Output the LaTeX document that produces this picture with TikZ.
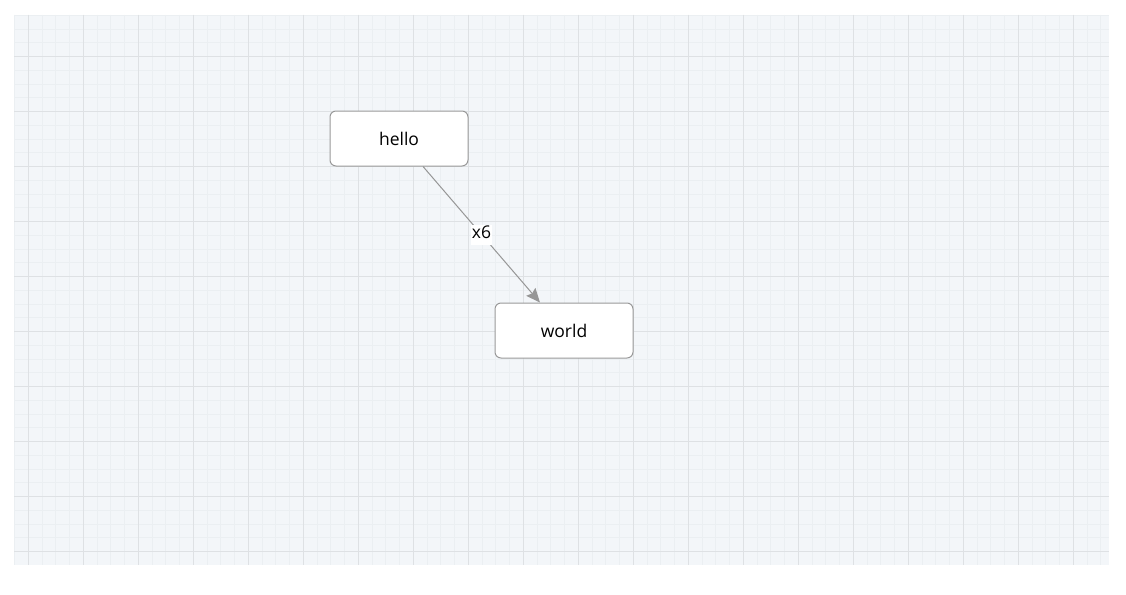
\documentclass[tikz,border=0pt]{standalone}
\usepackage{fontspec}
\setmainfont{Open Sans}
\usetikzlibrary{arrows.meta}
\definecolor{gridbg}{RGB}{243,246,249}
\definecolor{gridminor}{RGB}{235,239,242}
\definecolor{gridmajor}{RGB}{222,225,228}
\definecolor{boxborder}{RGB}{153,153,153}
\definecolor{edgecol}{RGB}{150,150,150}
\tikzset{
  boxnode/.style={draw=boxborder, line width=1pt, fill=white, rounded corners=6pt,
    minimum width=138pt, minimum height=55pt, inner sep=0pt,
    font=\fontsize{17.5}{21}\selectfont, text=black},
  edge/.style={draw=edgecol, line width=1pt, -{Stealth[length=14pt,width=12pt,inset=2pt]}},
  edgelabel/.style={fill=white, inner xsep=1pt, inner ysep=0pt, text height=14pt, text depth=6pt,
    font=\fontsize{17.5}{21}\selectfont, text=black},
  minorline/.style={draw=gridminor, line width=1pt},
  majorline/.style={draw=gridmajor, line width=1pt}
}
\begin{document}
\begin{tikzpicture}[x=1pt,y=-1pt]
\useasboundingbox (0,0) rectangle (1126,594);
\fill[white] (0,0) rectangle (1126,594);
\fill[gridbg] (14,15) rectangle (1109,564.5);
\begin{scope}
\clip (14,15) rectangle (1109,564.5);
\foreach \i in {-1,...,78} {
  \draw[minorline] ({28.3+13.75*\i},15) -- ({28.3+13.75*\i},564.5);
}
\foreach \j in {-3,...,37} {
  \draw[minorline] (14,{56.7+13.75*\j}) -- (1109,{56.7+13.75*\j});
}
\foreach \i in {0,...,19} {
  \draw[majorline] ({28.3+55*\i},15) -- ({28.3+55*\i},564.5);
}
\foreach \j in {0,...,9} {
  \draw[majorline] (14,{56.7+55*\j}) -- (1109,{56.7+55*\j});
}
\end{scope}
\node[boxnode] (hello) at (399,138.5) {hello};
\node[boxnode] (world) at (564,330.5) {world};
\draw[edge] (hello) -- node[edgelabel] (lbl) {x6} (world);
\end{tikzpicture}
\end{document}
